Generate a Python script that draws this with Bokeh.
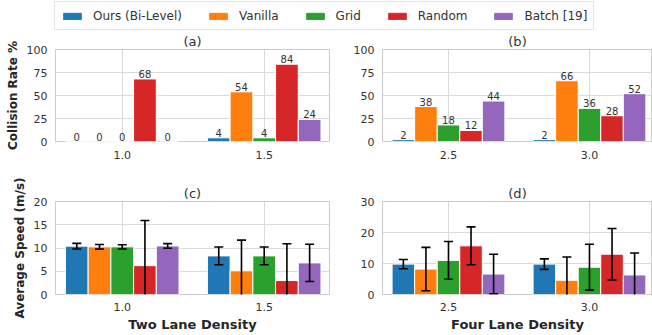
from bokeh.plotting import figure
from bokeh.layouts import column, row
from bokeh.models import FixedTicker, Legend, LegendItem, Range1d
from bokeh.embed import file_html
from bokeh.resources import INLINE
from bokeh.core.properties import value

FONT = "DejaVu Sans"

methods = ["Ours (Bi-Level)", "Vanilla", "Grid", "Random", "Batch [19]"]
colors = ["#1f77b4", "#ff7f0e", "#2ca02c", "#d62728", "#9467bd"]

two_lane_density = ["1.0", "1.5"]
four_lane_density = ["2.5", "3.0"]

# collision rate (%) — one list per method, one value per density
collision_two = [[0, 4], [0, 54], [0, 4], [68, 84], [0, 24]]
collision_four = [[2, 2], [38, 66], [18, 36], [12, 28], [44, 52]]

# average speed (m/s) mean and error — one list per method
speed_two_mean = [[10.4, 8.3], [10.25, 5.1], [10.25, 8.3], [6.2, 3.0], [10.45, 6.8]]
speed_two_err = [[0.6, 1.9], [0.5, 6.6], [0.45, 1.9], [9.7, 7.9], [0.5, 4.0]]
speed_four_mean = [[9.8, 9.8], [8.2, 4.6], [11.0, 8.8], [15.7, 13.0], [6.6, 6.3]]
speed_four_err = [[1.5, 1.7], [7.0, 7.5], [6.1, 7.4], [6.1, 8.3], [6.4, 7.1]]

coll_ticks = [0, 25, 50, 75, 100]
speed_two_ticks = [0, 5, 10, 15, 20]
speed_four_ticks = [0, 10, 20, 30]

BAR_W = 0.16


def panel(width, height, cats, vals, errs, yticks, title, xlabel, ylabel,
          xr, borders, show_labels, xstand):
    left, right, top, bottom = borders
    p = figure(width=width, height=height, x_range=Range1d(*xr),
               y_range=Range1d(yticks[0], yticks[-1]), output_backend="svg",
               toolbar_location=None, min_border_left=left,
               min_border_right=right, min_border_top=top,
               min_border_bottom=bottom)
    n = len(methods)
    for i in range(n):
        off = (i - (n - 1) / 2) * BAR_W
        xs = [j + off for j in range(len(cats))]
        p.vbar(x=xs, top=vals[i], width=BAR_W, fill_color=colors[i],
               line_color="white", line_width=1)
        if errs is not None:
            lo = [m - e for m, e in zip(vals[i], errs[i])]
            hi = [m + e for m, e in zip(vals[i], errs[i])]
            p.segment(x0=xs, y0=lo, x1=xs, y1=hi, line_color="black",
                      line_width=1.6)
            p.scatter(x=xs + xs, y=lo + hi, marker="dash", size=9,
                      line_color="black", line_width=1.6)
        if show_labels:
            p.text(x=xs, y=vals[i], text=[str(v) for v in vals[i]],
                   text_align="center", text_baseline="bottom", y_offset=-1,
                   text_font=value(FONT), text_font_size="10px",
                   text_color="#333333")
    p.xaxis.ticker = FixedTicker(ticks=list(range(len(cats))))
    p.xaxis.major_label_overrides = {j: c for j, c in enumerate(cats)}
    p.yaxis.ticker = FixedTicker(ticks=yticks)
    for ax in p.axis:
        ax.major_tick_line_color = None
        ax.minor_tick_line_color = None
        ax.axis_line_color = None
        ax.major_tick_out = 0
        ax.major_tick_in = 0
        ax.major_label_text_font = FONT
        ax.major_label_text_font_size = "11px"
        ax.major_label_text_color = "#333333"
    p.yaxis.major_label_standoff = 8
    p.xaxis.major_label_standoff = xstand
    if ylabel:
        p.yaxis.axis_label = ylabel
        p.yaxis.axis_label_text_font = FONT
        p.yaxis.axis_label_text_font_size = "12px"
        p.yaxis.axis_label_text_font_style = "bold"
        p.yaxis.axis_label_text_color = "#262626"
        p.yaxis.axis_label_standoff = 4
    if xlabel:
        p.xaxis.axis_label = xlabel
        p.xaxis.axis_label_text_font = FONT
        p.xaxis.axis_label_text_font_size = "13px"
        p.xaxis.axis_label_text_font_style = "bold"
        p.xaxis.axis_label_text_color = "#262626"
        p.xaxis.axis_label_standoff = 3
    p.grid.grid_line_color = "#dadada"
    p.grid.grid_line_width = 1
    p.outline_line_color = "#cccccc"
    p.outline_line_width = 1
    p.title.text = title
    p.title.align = "center"
    p.title.text_font = FONT
    p.title.text_font_size = "13px"
    p.title.text_font_style = "normal"
    p.title.text_color = "#333333"
    p.title.standoff = 2
    return p


fa = panel(330, 140, two_lane_density, collision_two, None, coll_ticks, "(a)",
           None, "Collision Rate %", (-0.47, 1.46), (55, 1, 18, 29), True, 9)
fb = panel(322, 140, four_lane_density, collision_four, None, coll_ticks, "(b)",
           None, None, (-0.468, 1.447), (52, 0, 18, 29), True, 9)
fc = panel(330, 165, two_lane_density, speed_two_mean, speed_two_err,
           speed_two_ticks, "(c)", "Two Lane Density", "Average Speed (m/s)",
           (-0.47, 1.46), (55, 1, 31, 41), False, 8)
fd = panel(322, 165, four_lane_density, speed_four_mean, speed_four_err,
           speed_four_ticks, "(d)", "Four Lane Density", None,
           (-0.468, 1.447), (52, 0, 31, 41), False, 8)

lf = figure(width=652, height=30, output_backend="svg", toolbar_location=None,
            x_axis_type=None, y_axis_type=None, min_border=0,
            x_range=(0, 1), y_range=(0, 1))
lf.outline_line_color = None
lf.grid.visible = False
items = []
for m, c in zip(methods, colors):
    # off-screen swatch source so that the legend draws its colour patch
    r = lf.vbar(x=[5], top=[1], width=0.1, fill_color=c, line_color=c)
    items.append(LegendItem(label=m, renderers=[r]))
leg = Legend(items=items, orientation="horizontal", location=(54, 0),
             glyph_width=22, glyph_height=8, label_standoff=10, spacing=25,
             padding=6, margin=0, label_height=15,
             label_text_font=FONT, label_text_font_size="12px",
             label_text_color="#333333", border_line_color="#cccccc",
             border_line_width=1, background_fill_color="white")
lf.add_layout(leg)

layout = column(lf, row(fa, fb), row(fc, fd))

open("out.html", "w").write(file_html(layout, INLINE))
